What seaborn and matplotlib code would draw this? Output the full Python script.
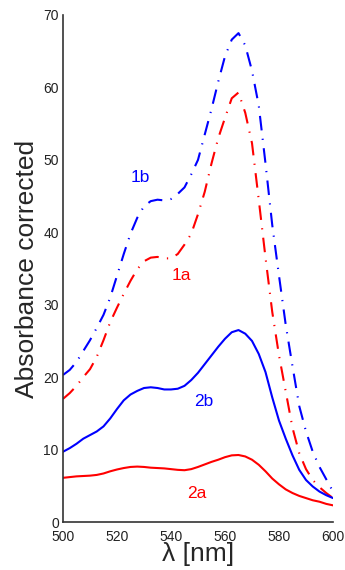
import numpy as np
import pandas as pd
import matplotlib
matplotlib.use("Agg")
import matplotlib.pyplot as plt
import seaborn as sns

wavelength = [500, 502.5, 505, 507.5, 510, 512.5, 515, 517.5, 520, 522.5,
              525, 527.5, 530, 532.5, 535, 537.5, 540, 542.5, 545, 547.5,
              550, 552.5, 555, 557.5, 560, 562.5, 565, 567.5, 570, 572.5,
              575, 577.5, 580, 582.5, 585, 587.5, 590, 592.5, 595, 597.5, 600]

s1b = [20.3, 21.0, 22.1, 23.6, 25.1, 26.8, 28.6, 31.0, 34.0, 37.0,
       39.8, 42.0, 43.6, 44.3, 44.5, 44.4, 44.6, 45.3, 46.2, 48.0,
       50.0, 53.5, 57.0, 60.8, 64.3, 66.6, 67.5, 65.8, 62.3, 57.5,
       49.5, 41.0, 34.0, 27.2, 21.5, 16.0, 12.5, 9.7, 7.6, 5.9, 4.2]

s1a = [17.0, 17.8, 18.8, 20.0, 21.1, 22.8, 25.1, 27.6, 29.6, 31.5,
       33.3, 34.9, 36.0, 36.5, 36.6, 36.4, 36.4, 37.0, 38.3, 39.8,
       42.5, 45.6, 49.5, 53.0, 55.8, 58.5, 59.3, 56.5, 52.3, 44.5,
       36.5, 29.0, 23.0, 18.0, 13.0, 9.5, 7.3, 5.8, 4.8, 4.0, 3.3]

s2b = [9.7, 10.2, 10.8, 11.5, 12.0, 12.5, 13.2, 14.3, 15.6, 16.8,
       17.6, 18.1, 18.5, 18.6, 18.5, 18.3, 18.3, 18.4, 18.8, 19.6,
       20.6, 21.8, 23.0, 24.2, 25.3, 26.2, 26.5, 26.0, 25.0, 23.2,
       20.7, 17.2, 14.0, 11.5, 9.2, 7.2, 5.8, 4.9, 4.2, 3.7, 3.3]

s2a = [6.1, 6.2, 6.3, 6.35, 6.4, 6.5, 6.7, 7.0, 7.25, 7.45,
       7.6, 7.65, 7.6, 7.5, 7.45, 7.4, 7.3, 7.2, 7.15, 7.3,
       7.6, 7.95, 8.3, 8.6, 8.95, 9.2, 9.25, 9.05, 8.6, 7.9,
       7.0, 6.0, 5.2, 4.5, 4.0, 3.6, 3.3, 3.0, 2.8, 2.5, 2.3]

series_names = ["1b", "1a", "2b", "2a"]
series_values = [s1b, s1a, s2b, s2a]
series_colors = ["#0000ff", "#ff0000", "#0000ff", "#ff0000"]
series_dashed = [True, True, False, False]
label_pos = {"1b": (528.5, 47.6), "1a": (543.7, 34.0), "2b": (552.2, 16.6), "2a": (549.6, 4.0)}

x_ticks = [500, 520, 540, 560, 580, 600]
y_ticks = [0, 10, 20, 30, 40, 50, 60, 70]

sns.set_style("white")
plt.rcParams['font.family'] = ['Liberation Sans', 'DejaVu Sans']

fig = plt.figure(figsize=(3.45, 5.7), dpi=100)
ax = fig.add_axes([63/345, 48/570, 270/345, 507/570])

for name, vals, col, dashed in zip(series_names, series_values, series_colors, series_dashed):
    df = pd.DataFrame({"wavelength": wavelength, "value": vals})
    sns.lineplot(data=df, x="wavelength", y="value", ax=ax, color=col, linewidth=1.5)
    l = ax.lines[-1]
    if dashed:
        l.set_dashes((7, 4, 0.6, 4))
    lx, ly = label_pos[name]
    ax.text(lx, ly, name, color=col, fontsize=12.5, ha="center", va="center")

ax.set_xlim(500, 600)
ax.set_ylim(0, 70)
ax.set_xticks(x_ticks)
ax.set_yticks(y_ticks)
ax.tick_params(direction="in", length=4, width=1, labelsize=10, colors="#222222")
ax.tick_params(axis="x", pad=5.5)
ax.tick_params(axis="y", pad=3)
for side in ["top", "right"]:
    ax.spines[side].set_visible(False)
for side in ["left", "bottom"]:
    ax.spines[side].set_color("#333333")
    ax.spines[side].set_linewidth(1.2)
ax.set_xlabel("λ [nm]", fontsize=19, labelpad=-1)
ax.set_ylabel("Absorbance corrected", fontsize=19, labelpad=3)

fig.savefig("out.png", dpi=100)
